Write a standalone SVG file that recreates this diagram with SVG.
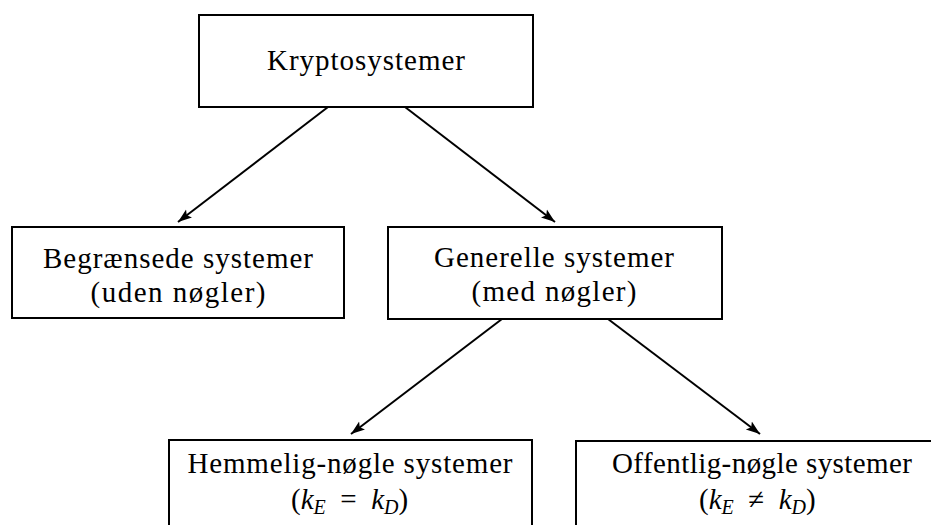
<svg xmlns="http://www.w3.org/2000/svg" width="931" height="525" viewBox="0 0 931 525">
<style>
.box{fill:#fff;stroke:#000;stroke-width:2}
.t{font-family:"Liberation Serif","DejaVu Serif",serif;font-size:29px;fill:#000;text-anchor:middle}
.m{font-family:"Liberation Serif","DejaVu Serif",serif;font-size:29px;fill:#000}
.i{font-style:italic}
.s{font-style:italic;font-size:20px}
.c{stroke:#000;stroke-width:2;fill:none;marker-end:url(#ah)}
</style>
<defs>
<marker id="ah" markerUnits="userSpaceOnUse" markerWidth="16" markerHeight="12" viewBox="0 -6 16 12" refX="14" refY="0" orient="auto">
<path d="M0,-5 L14,0 L0,5 L3,0 z" fill="#000"/>
</marker>
</defs>
<rect width="931" height="525" fill="#fff"/>
<g id="connectors">
<line class="c" x1="328" y1="107" x2="178" y2="222"/>
<line class="c" x1="405" y1="107" x2="555" y2="222"/>
<line class="c" x1="502" y1="319" x2="351" y2="434"/>
<line class="c" x1="608" y1="319" x2="760" y2="434"/>
</g>
<g id="kryptosystemer">
<rect class="box" x="199" y="15" width="334" height="92"/>
<text class="t" x="366" y="70" textLength="198" lengthAdjust="spacing">Kryptosystemer</text>
</g>
<g id="begraensede">
<rect class="box" x="12" y="227" width="332" height="91"/>
<text class="t" x="178" y="268" textLength="270" lengthAdjust="spacing">Begrænsede systemer</text>
<text class="t" x="178" y="302" textLength="175" lengthAdjust="spacing">(uden nøgler)</text>
</g>
<g id="generelle">
<rect class="box" x="388" y="227" width="334" height="92"/>
<text class="t" x="554" y="267" textLength="240" lengthAdjust="spacing">Generelle systemer</text>
<text class="t" x="554" y="301" textLength="165" lengthAdjust="spacing">(med nøgler)</text>
</g>
<g id="hemmelig">
<rect class="box" x="169" y="440" width="363" height="100"/>
<text class="t" x="350" y="473" textLength="325" lengthAdjust="spacing">Hemmelig-nøgle systemer</text>
<text class="m" x="291" y="509" xml:space="preserve">(<tspan class="i">k</tspan><tspan class="s" dy="5">E</tspan><tspan dy="-5">  =  </tspan><tspan class="i">k</tspan><tspan class="s" dy="5">D</tspan><tspan dy="-5">)</tspan></text>
</g>
<g id="offentlig">
<rect class="box" x="576" y="441" width="380" height="100"/>
<text class="t" x="762" y="473" textLength="300" lengthAdjust="spacing">Offentlig-nøgle systemer</text>
<text class="m" x="699" y="509" xml:space="preserve">(<tspan class="i">k</tspan><tspan class="s" dy="5">E</tspan><tspan dy="-5">  ≠  </tspan><tspan class="i">k</tspan><tspan class="s" dy="5">D</tspan><tspan dy="-5">)</tspan></text>
</g>
</svg>
